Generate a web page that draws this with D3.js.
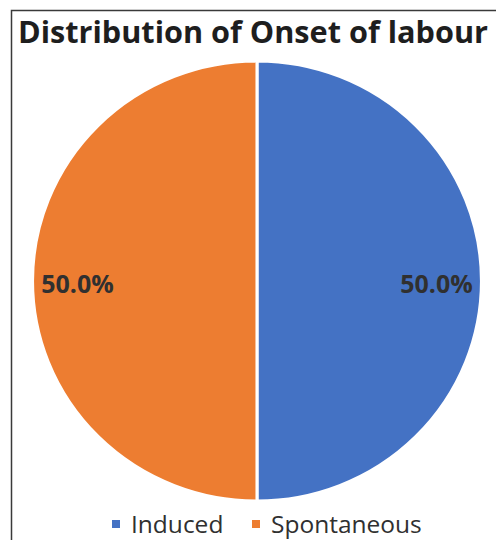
<!DOCTYPE html>
<html>
<head>
<meta charset="utf-8">
<script src="https://cdn.jsdelivr.net/npm/d3@7"></script>
<style>
  html, body { margin: 0; padding: 0; background: #fff; }
  svg { display: block; }
</style>
</head>
<body>
<svg id="chart" width="496" height="540"></svg>
<script>
// Onset of labour: share of induced vs spontaneous deliveries
const categories = ["Induced", "Spontaneous"];
const shares = [50.0, 50.0];
const colors = ["#4472C4", "#ED7D31"];
const titleText = "Distribution of Onset of labour";

const svg = d3.select("#chart");
const W = 496, H = 540;
const cx = 257, cy = 281, radius = 220;

// Outer frame (right side runs past the visible area)
svg.append("path")
  .attr("d", `M11.5,${H} L11.5,10.5 L${W},10.5`)
  .attr("fill", "none")
  .attr("stroke", "#3a3a3a")
  .attr("stroke-width", 1.5);

svg.append("text")
  .attr("x", 18)
  .attr("y", 43)
  .attr("font-family", "'Open Sans', sans-serif")
  .attr("font-weight", "bold")
  .attr("font-size", 30)
  .attr("textLength", 470)
  .attr("lengthAdjust", "spacingAndGlyphs")
  .attr("fill", "#1e1e1e")
  .text(titleText);

const data = categories.map((c, i) => ({ name: c, value: shares[i], color: colors[i] }));

const pie = d3.pie().sort(null).value(d => d.value);
const arc = d3.arc().innerRadius(0).outerRadius(radius);
const labelArc = d3.arc().innerRadius(radius * 0.80).outerRadius(radius * 0.80);

const g = svg.append("g").attr("transform", `translate(${cx},${cy})`);
const arcs = pie(data);

g.append("g")
  .attr("transform", "scale(1.02,1)")
  .selectAll("path.slice")
  .data(arcs)
  .enter().append("path")
  .attr("class", "slice")
  .attr("d", arc)
  .attr("fill", d => d.data.color)
  .attr("stroke", "#fff")
  .attr("stroke-width", 3)
  .attr("stroke-linejoin", "round");

const fmt = d3.format(".1f");
g.selectAll("text.pct")
  .data(arcs)
  .enter().append("text")
  .attr("class", "pct")
  .attr("transform", d => { const [x, y] = labelArc.centroid(d); return `translate(${x * 1.02},${y + 3})`; })
  .attr("text-anchor", "middle")
  .attr("dy", "0.35em")
  .attr("font-family", "'Open Sans', sans-serif")
  .attr("font-weight", "bold")
  .attr("font-size", 25)
  .attr("fill", "#303030")
  .text(d => fmt(d.data.value) + "%");

// Legend
const legend = svg.append("g").attr("transform", "translate(0,524)");
const legendX = [112, 252];
categories.forEach((c, i) => {
  const item = legend.append("g").attr("transform", `translate(${legendX[i]},0)`);
  item.append("rect")
    .attr("x", 0).attr("y", -4)
    .attr("width", 8).attr("height", 8)
    .attr("fill", colors[i]);
  item.append("text")
    .attr("x", 19)
    .attr("y", 0)
    .attr("dy", "0.35em")
    .attr("font-family", "'Open Sans', sans-serif")
    .attr("font-size", 24.5)
    .attr("fill", "#303030")
    .text(c);
});
</script>
</body>
</html>
